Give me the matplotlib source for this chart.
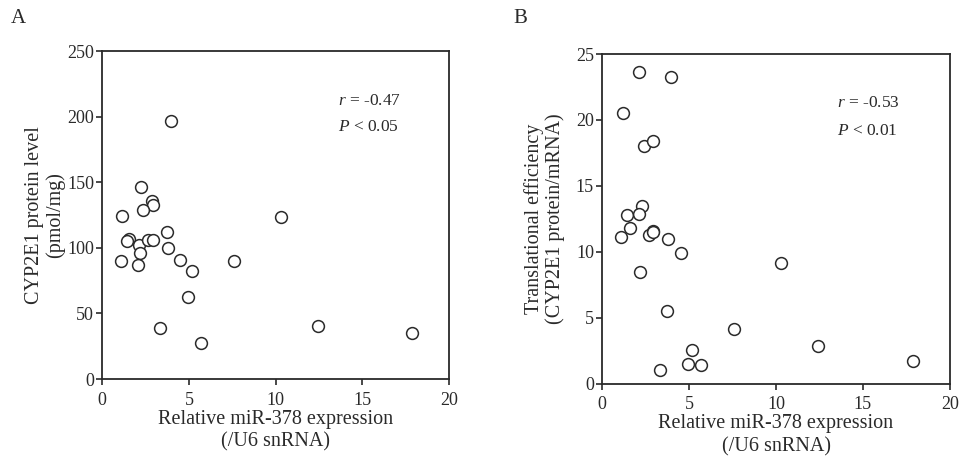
import matplotlib
matplotlib.use("Agg")
import matplotlib.pyplot as plt

plt.rcParams['font.family'] = ['Liberation Serif', 'DejaVu Serif']
plt.rcParams['mathtext.fontset'] = 'custom'
plt.rcParams['mathtext.rm'] = 'Liberation Serif'
plt.rcParams['mathtext.it'] = 'Liberation Serif:italic'

# panel A: miR-378 vs CYP2E1 protein
mir_a = [3.95, 2.23, 2.88, 2.93, 2.35, 1.12, 10.28, 1.56, 1.41, 2.12, 3.73, 2.64, 2.91,
         3.79, 2.18, 1.06, 2.06, 4.5, 7.6, 5.18, 4.93, 3.35, 12.43, 5.71, 17.89]
protein = [197, 146, 136, 133, 129, 124, 123.5, 106.5, 105.5, 102, 112, 106, 106,
           100, 96, 90, 87, 91, 90, 82, 62.5, 39, 40.5, 27.5, 35]

# panel B: miR-378 vs translational efficiency
mir_b = [2.13, 3.96, 1.17, 2.38, 2.94, 2.27, 1.45, 2.1, 1.59, 1.08, 2.67, 2.94, 2.89,
         3.8, 4.53, 10.27, 2.17, 3.72, 7.58, 5.16, 12.4, 4.92, 5.7, 3.34, 17.87]
efficiency = [23.65, 23.25, 20.5, 18.0, 18.4, 13.5, 12.8, 12.85, 11.8, 11.1, 11.25, 11.6, 11.5,
              11.0, 9.9, 9.15, 8.5, 5.5, 4.1, 2.55, 2.85, 1.45, 1.4, 1.0, 1.7]

ink = '#2a2a2a'

fig = plt.figure(figsize=(9.64, 4.74), dpi=100)
axA = fig.add_axes([0.1061, 0.2004, 0.3597, 0.6920])
axB = fig.add_axes([0.6248, 0.1909, 0.3604, 0.6950])

def style(ax):
    for s in ax.spines.values():
        s.set_linewidth(1.3)
        s.set_color(ink)
    ax.tick_params(direction='out', length=4, width=1.2, colors=ink,
                   labelsize=13, pad=2)
    ax.tick_params(axis='x', pad=5)
    ax.set_xlim(0, 20)
    ax.set_xticks([0, 5, 10, 15, 20])
    ax.set_xlabel('Relative miR-378 expression\n(/U6 snRNA)', fontsize=14.5,
                  color=ink, labelpad=1, linespacing=1.25)

axA.plot(mir_a, protein, 'o', mfc='white', mec=ink, mew=1.1, ms=8.5, ls='none')
style(axA)
axA.set_ylim(0, 250)
axA.set_yticks([0, 50, 100, 150, 200, 250])
axA.set_ylabel('CYP2E1 protein level\n(pmol/mg)', fontsize=14.5, color=ink,
               labelpad=1, linespacing=1.1)
axA.text(13.6, 212, r'$\it{r}$ = -0.47', fontsize=12.5, color=ink, va='center')
axA.text(13.6, 192, r'$\it{P}$ < 0.05', fontsize=12.5, color=ink, va='center')

axB.plot(mir_b, efficiency, 'o', mfc='white', mec=ink, mew=1.1, ms=8.5, ls='none')
style(axB)
axB.set_ylim(0, 25)
axB.set_yticks([0, 5, 10, 15, 20, 25])
axB.set_ylabel('Translational efficiency\n(CYP2E1 protein/mRNA)', fontsize=14.5,
               color=ink, labelpad=8, linespacing=1.1)
axB.text(13.5, 21.3, r'$\it{r}$ = -0.53', fontsize=12.5, color=ink, va='center')
axB.text(13.5, 19.2, r'$\it{P}$ < 0.01', fontsize=12.5, color=ink, va='center')

fig.text(0.011, 0.96, 'A', fontsize=15, color=ink, va='center')
fig.text(0.533, 0.96, 'B', fontsize=15, color=ink, va='center')

fig.savefig('out.png', dpi=100)
